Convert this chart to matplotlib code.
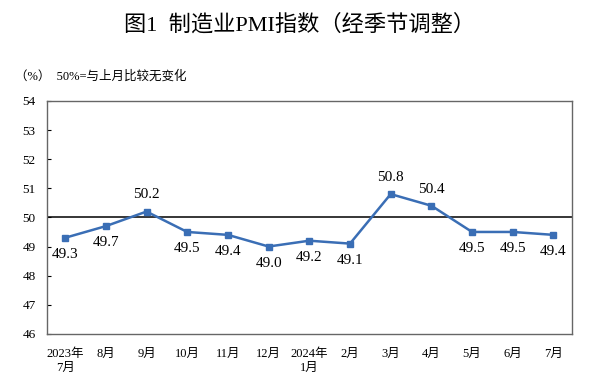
import numpy as np
import matplotlib.pyplot as plt

plt.rcParams['font.family'] = ['Liberation Serif', 'Noto Sans CJK SC']

months = ['2023年\n7月', '8月', '9月', '10月', '11月', '12月', '2024年\n1月',
          '2月', '3月', '4月', '5月', '6月', '7月']
pmi = [49.3, 49.7, 50.2, 49.5, 49.4, 49.0, 49.2, 49.1, 50.8, 50.4, 49.5, 49.5, 49.4]
above = [False, False, True, False, False, False, False, False, True, True, False, False, False]

fig = plt.figure(figsize=(6, 3.91), dpi=100)
ax = fig.add_axes([0.078, 0.146, 0.875, 0.596])

x = np.arange(len(pmi))
ax.plot(x, pmi, color='#3a6eb5', lw=1.8, marker='s', ms=4.5, zorder=3)
ax.axhline(50, color='black', lw=1.1, zorder=2)

for xi, v, up in zip(x, pmi, above):
    if up:
        ax.text(xi, v + 0.35, f'{v:.1f}', ha='center', va='bottom', fontsize=11)
    else:
        ax.text(xi, v - 0.35, f'{v:.1f}', ha='center', va='top', fontsize=11)

ax.set_xlim(-0.45, 12.45)
ax.set_ylim(46, 54)
ax.set_yticks(range(46, 55))
ax.set_xticks(x)
ax.set_xticklabels(months, fontsize=9, va='top')
ax.tick_params(axis='x', length=0, pad=10)
ax.tick_params(axis='y', direction='in', length=3, labelsize=9.5, pad=8)
for s in ax.spines.values():
    s.set_color('#666666')
    s.set_linewidth(1.0)

fig.text(0.5, 0.935, '图1  制造业PMI指数（经季节调整）', ha='center', va='center', fontsize=16)
fig.text(0.025, 0.805, '（%）  50%=与上月比较无变化', ha='left', va='center', fontsize=9)

fig.savefig('out.png', dpi=100)
